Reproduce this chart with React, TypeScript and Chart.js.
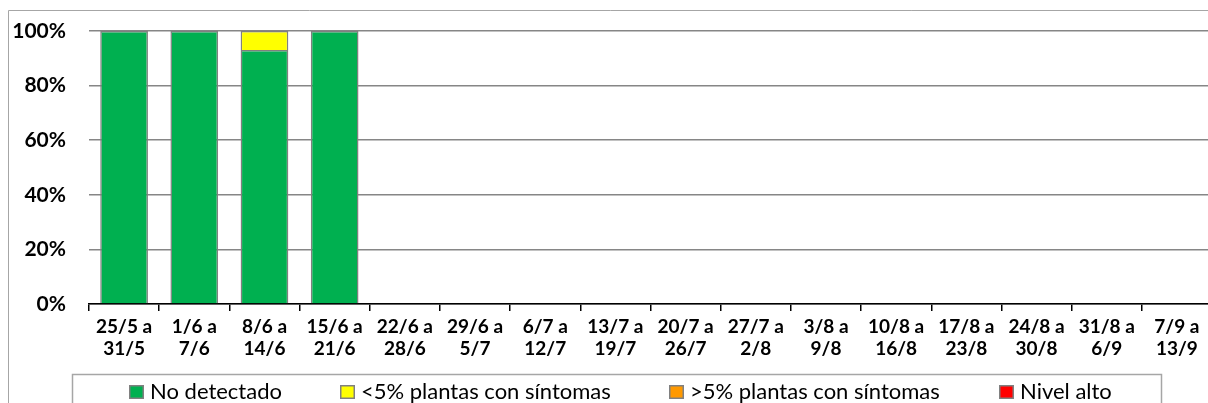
import React, { useEffect, useRef } from "react";
import { Chart, registerables } from "chart.js";

Chart.register(...registerables);

const categories: string[][] = [
  ["25/5 a", "31/5"], ["1/6 a", "7/6"], ["8/6 a", "14/6"], ["15/6 a", "21/6"],
  ["22/6 a", "28/6"], ["29/6 a", "5/7"], ["6/7 a", "12/7"], ["13/7 a", "19/7"],
  ["20/7 a", "26/7"], ["27/7 a", "2/8"], ["3/8 a", "9/8"], ["10/8 a", "16/8"],
  ["17/8 a", "23/8"], ["24/8 a", "30/8"], ["31/8 a", "6/9"], ["7/9 a", "13/9"],
];

const noDetectado: (number | null)[] = [1, 1, 0.93, 1, null, null, null, null, null, null, null, null, null, null, null, null];
const menos5: (number | null)[] = [null, null, 0.07, null, null, null, null, null, null, null, null, null, null, null, null, null];
const mas5: (number | null)[] = [null, null, null, null, null, null, null, null, null, null, null, null, null, null, null, null];
const nivelAlto: (number | null)[] = [null, null, null, null, null, null, null, null, null, null, null, null, null, null, null, null];

const seriesLabels = ["No detectado", "<5% plantas con síntomas", ">5% plantas con síntomas", "Nivel alto"];
const seriesColors = ["#00B050", "#FFFF00", "#FF9900", "#FF0000"];
const yTicks = [0, 0.2, 0.4, 0.6, 0.8, 1];

const FONT = "Lato, 'Noto Sans', sans-serif";
const legendX = [121, 332, 661, 991];

const framePlugin = {
  id: "frame",
  beforeDraw(chart: any) {
    const ctx = chart.ctx;
    ctx.save();
    ctx.fillStyle = "#ffffff";
    ctx.fillRect(0, 0, chart.width, chart.height);
    ctx.strokeStyle = "#A6A6A6";
    ctx.lineWidth = 1;
    ctx.beginPath();
    ctx.moveTo(0.5, chart.height);
    ctx.lineTo(0.5, 2.5);
    ctx.lineTo(chart.width, 2.5);
    ctx.stroke();
    ctx.restore();
  },
  afterDraw(chart: any) {
    const ctx = chart.ctx;
    ctx.save();
    ctx.strokeStyle = "#A6A6A6";
    ctx.lineWidth = 1.5;
    ctx.strokeRect(64.5, 366.5, 1089, 60);
    ctx.font = `22px ${FONT}`;
    ctx.textBaseline = "middle";
    ctx.textAlign = "left";
    chart.data.datasets.forEach((ds: any, i: number) => {
      const x = legendX[i];
      ctx.fillStyle = ds.backgroundColor;
      ctx.fillRect(x, 377, 15, 14);
      ctx.strokeStyle = "#808080";
      ctx.lineWidth = 1.5;
      ctx.strokeRect(x + 0.75, 377.75, 13.5, 12.5);
      ctx.fillStyle = "#000000";
      ctx.fillText(ds.label, x + 21, 384);
    });
    ctx.restore();
  },
};

export default function App() {
  const ref = useRef<HTMLCanvasElement>(null);
  useEffect(() => {
    if (!ref.current) return;
    const datasets = [noDetectado, menos5, mas5, nivelAlto].map((d, i) => ({
      label: seriesLabels[i],
      data: d,
      backgroundColor: seriesColors[i],
      borderColor: "#808080",
      borderWidth: 1.5,
      barPercentage: 0.68,
      categoryPercentage: 1,
    }));
    const chart = new Chart(ref.current, {
      type: "bar",
      data: { labels: categories, datasets },
      plugins: [framePlugin],
      options: {
        animation: false,
        responsive: false,
        maintainAspectRatio: false,
        layout: { padding: { top: 23, right: 1, left: 0, bottom: 0 } },
        plugins: { legend: { display: false }, tooltip: { enabled: false } },
        scales: {
          x: {
            stacked: true,
            offset: true,
            afterFit: (s: any) => { s.height = 99; },
            grid: { drawOnChartArea: false, drawTicks: true, tickLength: 7, color: "#000000", lineWidth: 1.5, offset: true },
            border: { display: true, color: "#000000", width: 1.5 },
            ticks: { color: "#000000", padding: 5, maxRotation: 0, autoSkip: false, font: { family: FONT, size: 19, weight: "bold", lineHeight: 1.16 } },
          },
          y: {
            stacked: true,
            min: 0,
            max: 1,
            afterFit: (s: any) => { s.width = 81; },
            afterBuildTicks: (s: any) => { s.ticks = yTicks.map((v) => ({ value: v })); },
            grid: { drawTicks: true, tickLength: 23, tickColor: "rgba(0,0,0,0)", color: "#868686", lineWidth: 1.5 },
            border: { display: false },
            ticks: { color: "#000000", padding: 0, font: { family: FONT, size: 21, weight: "bold" }, callback: (v: any) => `${Math.round(Number(v) * 100)}%` },
          },
        },
      },
    });
    return () => chart.destroy();
  }, []);
  return (
    <div style={{ position: "fixed", left: 8, top: 8 }}>
      <canvas ref={ref} width={1205} height={395} style={{ display: "block", width: 1205, height: 395 }} />
    </div>
  );
}
